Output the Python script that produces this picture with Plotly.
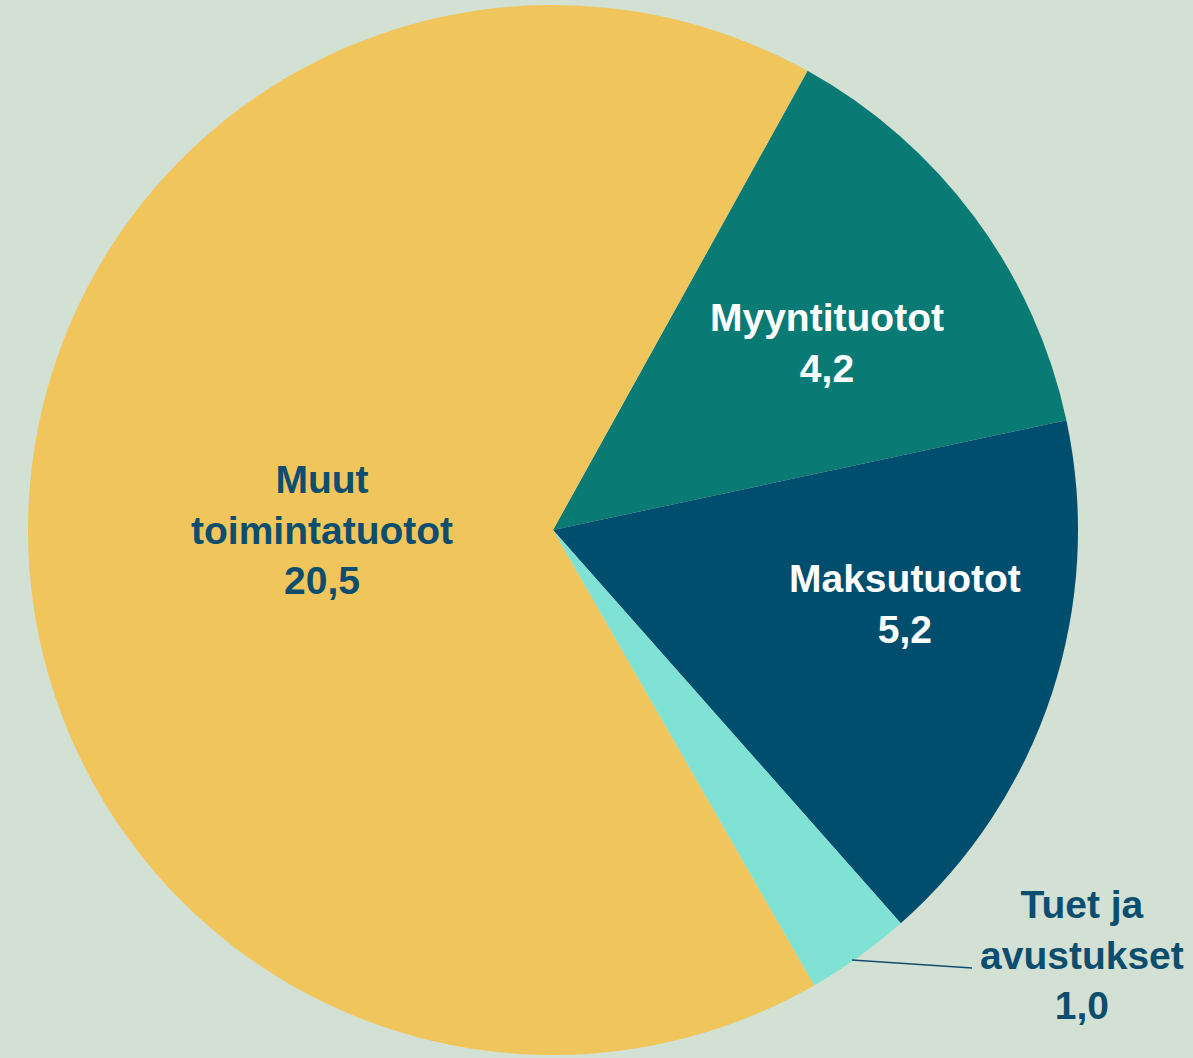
import plotly.graph_objects as go

labels = ["Myyntituotot", "Maksutuotot", "Tuet ja avustukset", "Muut toimintatuotot"]
values = [4.2, 5.2, 1.0, 20.5]
value_text = ["4,2", "5,2", "1,0", "20,5"]
label_text = ["Myyntituotot", "Maksutuotot", "Tuet ja<br>avustukset", "Muut<br>toimintatuotot"]
colors = ["#0A7A74", "#004E6E", "#80E1D5", "#F0C65C"]
text_colors = ["#FFFFFF", "#FFFFFF", "#0D4E6E", "#0D4E6E"]

W, H = 1193, 1058
BG = "#D3E0D4"

fig = go.Figure(go.Pie(
    labels=labels,
    values=values,
    sort=False,
    direction="clockwise",
    rotation=29,
    marker=dict(colors=colors, line=dict(width=0)),
    textinfo="none",
    hoverinfo="label+value",
    showlegend=False,
    domain=dict(x=[28 / W, 1078 / W], y=[3 / H, 1053 / H]),
))

# label anchor positions in pixels (center of text block)
label_pos = [(827, 343), (905, 604), (1082, 955), (322, 530)]
for name, val, (px, py), tc in zip(label_text, value_text, label_pos, text_colors):
    fig.add_annotation(
        x=px / W, y=1 - py / H, xref="paper", yref="paper",
        text=f"{name}<br>{val}", showarrow=False,
        xanchor="center", yanchor="middle", align="center",
        font=dict(family="Liberation Sans, Arial, sans-serif", size=39, color=tc, weight="bold"),
    )

# leader line for the small slice
fig.add_shape(type="line", xref="paper", yref="paper",
              x0=852 / W, y0=1 - 960 / H, x1=972 / W, y1=1 - 968 / H,
              line=dict(color="#0D4E6E", width=1.5))

fig.update_layout(
    width=W, height=H,
    margin=dict(l=0, r=0, t=0, b=0),
    paper_bgcolor=BG, plot_bgcolor=BG,
)

fig.write_html(
    "out.html",
    config={"displayModeBar": False},
    post_script="document.body.style.margin='0';document.body.style.background='" + BG + "';",
)
